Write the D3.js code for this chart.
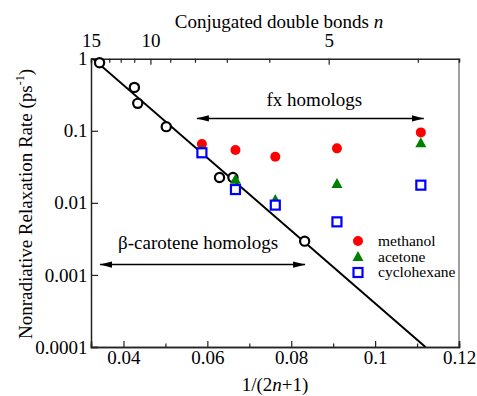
<!DOCTYPE html>
<html lang="en">
<head>
<meta charset="utf-8">
<title>Nonradiative relaxation rate</title>
<script src="https://d3js.org/d3.v7.min.js"></script>
<style>
  body { margin: 0; background: #fff; }
  text { font-family: "Liberation Serif", "Times New Roman", serif; fill: #000; }
</style>
</head>
<body>
<script type="text/javascript">

// beta-carotene homologs (open circles)
var caroteneX = [0.0343, 0.0426, 0.0434, 0.0502, 0.0629, 0.0661, 0.0832];
var caroteneY = [0.88, 0.40, 0.24, 0.114, 0.0225, 0.0225, 0.00294];

// fx homologs in three solvents
var fxX = [0.0587, 0.0667, 0.0762, 0.0909, 0.1109];
var methanol = [0.0654, 0.054, 0.0435, 0.057, 0.095];
var acetone = [0.054, 0.0213, 0.0111, 0.0186, 0.068];
var cyclohexane = [0.0495, 0.0153, 0.0093, 0.00545, 0.0176];

// fitted line end points
var fitX = [0.0323, 0.1120];
var fitY = [1.05, 0.0001];

// axes
var xDomain = [1 / 31, 0.12];
var yDomain = [0.0001, 1];
var xMajor = [0.04, 0.06, 0.08, 0.1, 0.12];
var xMinor = [0.05, 0.07, 0.09, 0.11];
var yTicks = [0.0001, 0.001, 0.01, 0.1, 1];
var yLabels = ["0.0001", "0.001", "0.01", "0.1", "1"];
var nTicks = [4, 5, 6, 7, 8, 9, 10, 11, 12, 13, 14, 15];
var nLabeled = [5, 10, 15];
var topDomain = [1 / 30, 0.13656]; // top axis runs in 1/(2n)

// annotations (data units)
var fxArrow = {x1: 0.0575, x2: 0.1116, y: 0.1486, label: "fx homologs", tx: 0.0855, ty: 0.22};
var carArrow = {x1: 0.0344, x2: 0.0833, y: 0.00139, label: "\u03b2-carotene homologs", tx: 0.0578, ty: 0.00228};

var w = 477, h = 396;
var pLeft = 91, pRight = 459, pTop = 58.7, pBottom = 347;

var x = d3.scaleLinear().domain(xDomain).range([pLeft, pRight]);
var y = d3.scaleLog().domain(yDomain).range([pBottom, pTop]);
var xTop = d3.scaleLinear().domain(topDomain).range([pLeft, pRight]);

var svg = d3.select("body").append("svg").attr("width", w).attr("height", h);
svg.append("rect").attr("width", w).attr("height", h).attr("fill", "white");

var defs = svg.append("defs");
defs.append("clipPath").attr("id", "plot").append("rect")
  .attr("x", pLeft).attr("y", pTop).attr("width", pRight - pLeft).attr("height", pBottom - pTop);
defs.append("marker").attr("id", "head").attr("viewBox", "0 0 12 8")
  .attr("refX", 12).attr("refY", 4).attr("markerWidth", 12).attr("markerHeight", 8)
  .attr("markerUnits", "userSpaceOnUse").attr("orient", "auto-start-reverse")
  .append("path").attr("d", "M0,0.8L12,4L0,7.2Z").attr("fill", "black");

// frame
svg.append("line").attr("x1", pRight).attr("x2", pRight).attr("y1", pTop).attr("y2", pBottom)
  .attr("stroke", "#888").attr("stroke-width", 1.6);

// bottom axis
svg.append("g").attr("transform", "translate(0," + pBottom + ")")
  .call(d3.axisBottom(x).tickValues(xMajor).tickFormat(d3.format("")).tickSize(-6).tickPadding(4));
svg.append("g").attr("transform", "translate(0," + pBottom + ")")
  .call(d3.axisBottom(x).tickValues(xMinor).tickFormat("").tickSize(-3.5));

// left axis
svg.append("g").attr("transform", "translate(" + pLeft + ",0)")
  .call(d3.axisLeft(y).tickValues(yTicks).tickFormat(function(d, i) { return yLabels[i]; })
    .tickSize(-7).tickPadding(3.5));

// top axis
var gt = svg.append("g").attr("transform", "translate(0," + pTop + ")")
  .call(d3.axisTop(xTop).tickValues(nTicks.map(function(n) { return 1 / (2 * n); }))
    .tickFormat(function(d) { var n = Math.round(1 / (2 * d)); return nLabeled.indexOf(n) >= 0 ? n : ""; })
    .tickSize(-4).tickPadding(12));
gt.selectAll(".tick line").attr("y2", function(d) {
  var n = Math.round(1 / (2 * d)); return nLabeled.indexOf(n) >= 0 ? 6 : 4; });

svg.selectAll(".domain").attr("stroke", "#222").attr("stroke-width", 1.5);
svg.selectAll(".tick line").attr("stroke", "#222").attr("stroke-width", 1.2);
svg.selectAll(".tick text").style("font-family", "Liberation Serif, serif").style("font-size", "19px").attr("fill", "black");

// axis titles
svg.append("text").attr("x", 275).attr("y", 391).attr("text-anchor", "middle").style("font-size", "19px")
  .html('1/(2<tspan font-style="italic">n</tspan>+1)');
svg.append("text").attr("x", 279).attr("y", 27.5).attr("text-anchor", "middle").style("font-size", "19px")
  .html('Conjugated double bonds <tspan font-style="italic">n</tspan>');
svg.append("text").attr("transform", "translate(32,204) rotate(-90)").attr("text-anchor", "middle")
  .style("font-size", "19px")
  .html('Nonradiative Relaxation Rate (ps<tspan font-size="12px" dy="-8">-1</tspan><tspan dy="8">)</tspan>');

// fit line
svg.append("line").attr("clip-path", "url(#plot)")
  .attr("x1", x(fitX[0])).attr("y1", y(fitY[0])).attr("x2", x(fitX[1])).attr("y2", y(fitY[1]))
  .attr("stroke", "black").attr("stroke-width", 2);

// annotations
[fxArrow, carArrow].forEach(function(a) {
  svg.append("line").attr("x1", x(a.x1)).attr("x2", x(a.x2)).attr("y1", y(a.y)).attr("y2", y(a.y))
    .attr("stroke", "black").attr("stroke-width", 1.5)
    .attr("marker-start", "url(#head)").attr("marker-end", "url(#head)");
  svg.append("text").attr("x", x(a.tx)).attr("y", y(a.ty)).attr("text-anchor", "middle")
    .style("font-size", "19px").text(a.label);
});

// carotene points
svg.selectAll("circle.car").data(caroteneX).enter().append("circle").attr("class", "car")
  .attr("cx", function(d) { return x(d); }).attr("cy", function(d, i) { return y(caroteneY[i]); })
  .attr("r", 4.6).attr("fill", "white").attr("stroke", "black").attr("stroke-width", 2.2);

// solvents
var tri = "M0,-5.5L5.5,4.5L-5.5,4.5Z";
svg.selectAll("circle.meth").data(methanol).enter().append("circle").attr("class", "meth")
  .attr("cx", function(d, i) { return x(fxX[i]); }).attr("cy", function(d) { return y(d); })
  .attr("r", 5).attr("fill", "#ff0000");
svg.selectAll("path.acet").data(acetone).enter().append("path").attr("class", "acet")
  .attr("transform", function(d, i) { return "translate(" + x(fxX[i]) + "," + y(d) + ")"; })
  .attr("d", tri).attr("fill", "#008000");
svg.selectAll("rect.cyc").data(cyclohexane).enter().append("rect").attr("class", "cyc")
  .attr("x", function(d, i) { return x(fxX[i]) - 4.5; }).attr("y", function(d) { return y(d) - 4.5; })
  .attr("width", 9).attr("height", 9).attr("fill", "white").attr("stroke", "#0000ff").attr("stroke-width", 2.2);

// legend
var lg = svg.append("g").attr("transform", "translate(358,241)");
lg.append("circle").attr("cx", 0).attr("cy", 0).attr("r", 5).attr("fill", "#ff0000");
lg.append("path").attr("transform", "translate(0,15.5)").attr("d", tri).attr("fill", "#008000");
lg.append("rect").attr("x", -4.5).attr("y", 31.5 - 4.5).attr("width", 9).attr("height", 9)
  .attr("fill", "white").attr("stroke", "#0000ff").attr("stroke-width", 2.2);
["methanol", "acetone", "cyclohexane"].forEach(function(t, i) {
  lg.append("text").attr("x", 20).attr("y", i * 15.5 + 5).style("font-size", "15.5px").text(t);
});

</script>
</body>
</html>
